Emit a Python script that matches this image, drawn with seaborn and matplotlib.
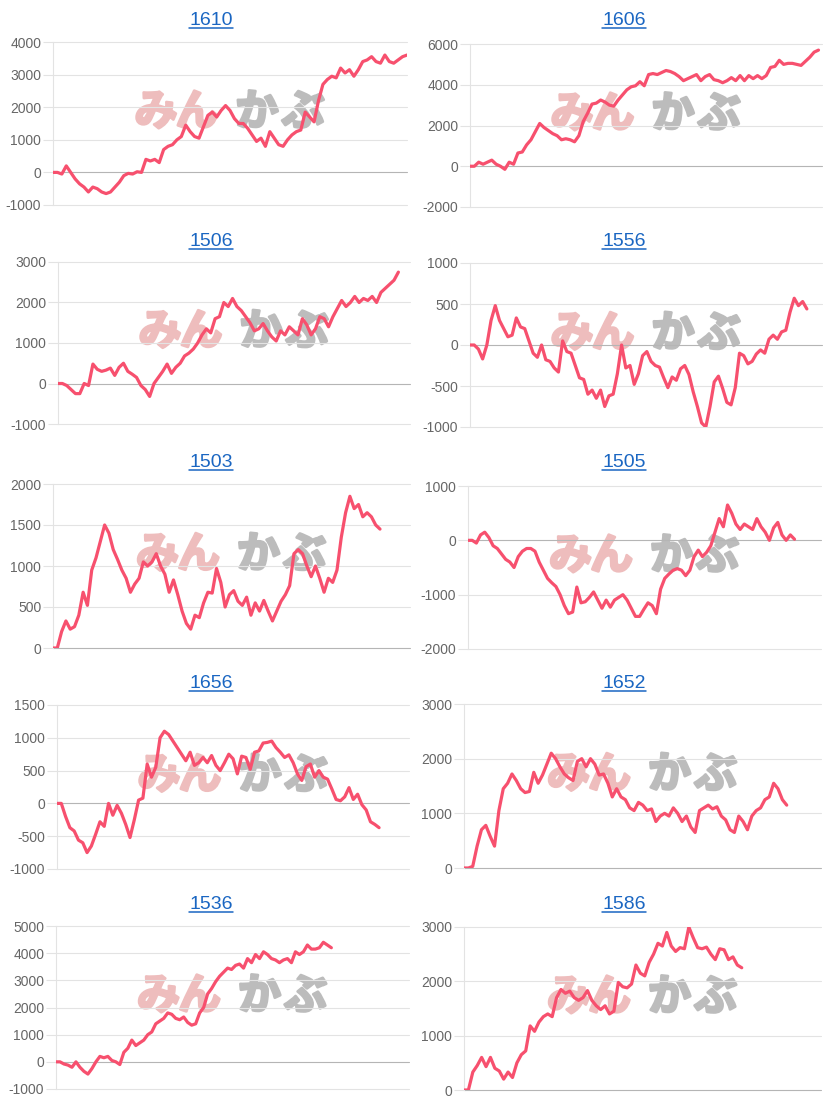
import matplotlib

matplotlib.use("Agg")
import matplotlib.patheffects as pe
import matplotlib.pyplot as plt
import numpy as np
import pandas as pd
import seaborn as sns
from matplotlib.lines import Line2D

# --- data (cumulative P/L per code) ---
codes = ["1610", "1606", "1506", "1556", "1503", "1505", "1656", "1652", "1536", "1586"]

pl_1610 = [0, 0, -50, 200, 0, -200, -350, -450, -600, -450, -500, -600, -650, -600, -450,
           -300, -100, -30, -50, 20, 0, 400, 350, 400, 300, 700, 800, 850, 1000, 1100,
           1450, 1250, 1100, 1050, 1400, 1750, 1850, 1700, 1900, 2050, 1900, 1650, 1500,
           1500, 1350, 1150, 950, 1050, 800, 1250, 1050, 850, 800, 1000, 1150, 1250, 1300,
           1850, 1700, 1550, 2200, 2700, 2850, 2950, 2900, 3200, 3050, 3150, 2950, 3150,
           3400, 3450, 3550, 3400, 3350, 3600, 3400, 3350, 3450, 3550, 3600]
pl_1606 = [0, 0, 200, 100, 200, 300, 100, 0, -150, 200, 100, 650, 700, 1050, 1300, 1700,
           2100, 1900, 1750, 1600, 1500, 1300, 1350, 1300, 1200, 1500, 2200, 2600, 3050,
           3100, 3250, 3150, 3000, 2950, 3250, 3500, 3750, 3900, 3950, 4150, 3950, 4500,
           4550, 4500, 4600, 4700, 4650, 4550, 4400, 4200, 4300, 4400, 4500, 4200, 4400,
           4500, 4250, 4200, 4100, 4200, 4350, 4200, 4450, 4200, 4450, 4300, 4450, 4300,
           4450, 4850, 4900, 5200, 5000, 5050, 5050, 5000, 4950, 5150, 5350, 5600, 5700]
pl_1506 = [0, 0, -50, -150, -250, -250, 0, -50, 480, 350, 300, 330, 380, 200, 400, 500,
           300, 230, 150, -50, -150, -320, 0, 150, 300, 480, 250, 400, 500, 680, 750, 850,
           1000, 1200, 1350, 1250, 1600, 1650, 2000, 1900, 2100, 1900, 1800, 1650, 1500,
           1300, 1350, 1480, 1300, 1150, 1050, 1300, 1200, 1400, 1300, 1200, 1600, 1450,
           1200, 1350, 1650, 1600, 1400, 1650, 1850, 2050, 1900, 2000, 2150, 2000, 2100,
           2050, 2150, 2000, 2250, 2350, 2450, 2550, 2750]
pl_1556 = [0, 0, -50, -170, 0, 300, 480, 300, 200, 100, 120, 330, 220, 200, 50, -100, -150,
           0, -180, -200, -280, -330, 50, -80, -100, -250, -400, -420, -600, -550, -650,
           -550, -750, -620, -600, -350, 0, -280, -250, -480, -350, -130, -80, -200, -250,
           -270, -400, -520, -390, -430, -290, -250, -360, -570, -750, -950, -1000, -750,
           -450, -380, -530, -700, -730, -520, -100, -130, -230, -200, -110, -60, -100, 70,
           120, 70, 160, 180, 400, 570, 480, 530, 440]
pl_1503 = [0, 0, 200, 330, 230, 260, 400, 680, 520, 950, 1100, 1300, 1500, 1400, 1200,
           1080, 950, 850, 680, 780, 850, 1050, 1000, 1050, 1150, 1000, 900, 680, 830, 650,
           450, 300, 230, 400, 370, 550, 680, 670, 970, 800, 500, 650, 700, 570, 520, 620,
           400, 550, 450, 580, 450, 330, 450, 570, 650, 760, 1150, 1200, 1150, 1000, 870,
           1000, 850, 680, 850, 800, 950, 1350, 1650, 1850, 1700, 1750, 1600, 1650, 1600,
           1500, 1450]
pl_1505 = [0, 0, -50, 100, 150, 50, -100, -150, -250, -350, -400, -500, -300, -200, -150,
           -150, -200, -400, -550, -700, -780, -850, -1000, -1200, -1350, -1320, -860, -1150,
           -1130, -1050, -950, -1100, -1250, -1100, -1230, -1100, -1050, -1000, -1100, -1250,
           -1400, -1400, -1270, -1150, -1200, -1350, -900, -700, -620, -550, -520, -550,
           -650, -550, -300, -180, -300, -220, -100, 150, 400, 250, 650, 500, 300, 200, 300,
           250, 200, 400, 250, 150, 0, 230, 330, 100, 0, 100, 20]
pl_1656 = [0, 0, -200, -370, -420, -560, -600, -750, -650, -470, -280, -350, 0, -180, -30,
           -150, -320, -520, -250, 50, 80, 600, 400, 550, 1000, 1100, 1050, 950, 850, 750,
           650, 780, 580, 620, 700, 620, 730, 580, 500, 620, 750, 680, 450, 720, 700, 520,
           780, 800, 920, 930, 950, 850, 780, 700, 740, 620, 450, 350, 560, 600, 400, 500,
           400, 370, 220, 60, 40, 100, 240, 60, 140, -20, -100, -280, -320, -370]
pl_1652 = [0, 0, 30, 400, 700, 780, 580, 400, 1050, 1450, 1550, 1720, 1600, 1450, 1380,
           1400, 1750, 1550, 1700, 1900, 2100, 2000, 1850, 1720, 1650, 1600, 1950, 2000,
           1850, 2000, 1900, 1700, 1720, 1550, 1300, 1450, 1300, 1250, 1100, 1050, 1200,
           1150, 1050, 1080, 850, 950, 1000, 950, 1100, 1000, 850, 950, 750, 650, 1050,
           1100, 1150, 1080, 1120, 950, 880, 700, 650, 950, 850, 700, 950, 1050, 1100, 1250,
           1300, 1550, 1450, 1250, 1150]
pl_1536 = [0, 0, -80, -120, -200, 0, -200, -350, -450, -250, 0, 200, 150, 200, 50, 0, -100,
           350, 500, 800, 600, 700, 800, 1000, 1100, 1400, 1500, 1600, 1800, 1750, 1600,
           1550, 1650, 1450, 1350, 1400, 1800, 2000, 2500, 2700, 2950, 3150, 3300, 3450,
           3400, 3550, 3600, 3450, 3800, 3650, 3950, 3800, 4050, 3950, 3800, 3750, 3650,
           3750, 3800, 3650, 4050, 3950, 4050, 4300, 4150, 4150, 4200, 4400, 4300, 4200]
pl_1586 = [0, 0, 330, 450, 600, 430, 600, 400, 350, 200, 330, 230, 500, 650, 720, 1180,
           1080, 1250, 1350, 1400, 1350, 1700, 1850, 1780, 1820, 1700, 1650, 1700, 1830,
           1650, 1550, 1480, 1550, 1400, 1450, 1980, 1900, 1880, 1950, 2300, 2150, 2100,
           2350, 2500, 2700, 2650, 2900, 2650, 2550, 2620, 2600, 3000, 2800, 2620, 2600,
           2630, 2500, 2400, 2600, 2580, 2400, 2450, 2300, 2250]

series = [pl_1610, pl_1606, pl_1506, pl_1556, pl_1503,
          pl_1505, pl_1656, pl_1652, pl_1536, pl_1586]

# share of the common date axis each series covers
coverage = [1.0, 0.99, 0.967, 0.957, 0.916, 0.925, 0.915, 0.904, 0.78, 0.778]

y_ticks = [
    [-1000, 0, 1000, 2000, 3000, 4000],
    [-2000, 0, 2000, 4000, 6000],
    [-1000, 0, 1000, 2000, 3000],
    [-1000, -500, 0, 500, 1000],
    [0, 500, 1000, 1500, 2000],
    [-2000, -1000, 0, 1000],
    [-1000, -500, 0, 500, 1000, 1500],
    [0, 1000, 2000, 3000],
    [-1000, 0, 1000, 2000, 3000, 4000, 5000],
    [0, 1000, 2000, 3000],
]

# --- layout (pixel boxes of each plot area: left, right, top, bottom) ---
W, H = 824, 1105
boxes = [
    (53, 407, 42, 205), (470, 822, 44, 207),
    (58, 410, 262, 424), (470, 822, 263, 427),
    (53, 410, 484, 648), (468, 821, 486, 649),
    (57, 409, 705, 869), (464, 821, 704, 868),
    (56, 409, 926, 1089), (464, 821, 927, 1090),
]
title_cx = [211, 624]

LINE = "#f7506e"
GRID = "#e3e3e3"
ZERO = "#b5b5b5"
TICK_TXT = "#666666"
LINK = "#1a66c2"
LOGO_PINK = "#eebdbd"
LOGO_GRAY = "#bcbcbc"

sns.set_theme(style="white")
plt.rcParams["font.family"] = ["Liberation Sans", "Noto Sans CJK JP", "DejaVu Sans"]

fig = plt.figure(figsize=(W / 100, H / 100), dpi=100)
titles = []

for i, (code, vals, ticks, cov) in enumerate(zip(codes, series, y_ticks, coverage)):
    x0, x1, yt, yb = boxes[i]
    ax = fig.add_axes([x0 / W, 1 - yb / H, (x1 - x0) / W, (yb - yt) / H])
    ax.set_facecolor("none")

    # watermark logo (みんかぶ)
    for ch, dx, col in zip("みんかぶ", [-74, -33, 27, 73],
                           [LOGO_PINK, LOGO_PINK, LOGO_GRAY, LOGO_GRAY]):
        ax.text(0.5 + dx / (x1 - x0), 0.57, ch, transform=ax.transAxes,
                ha="center", va="center", fontsize=31, fontweight="bold",
                color=col, family=["Noto Sans CJK JP"], zorder=1,
                path_effects=[pe.withStroke(linewidth=2, foreground=col)])

    # horizontal grid, zero line darker
    for t in ticks:
        ax.axhline(t, color=ZERO if t == 0 else GRID, lw=0.8, zorder=2, clip_on=False)

    df = pd.DataFrame({"day": np.arange(len(vals)), "pl": vals})
    sns.lineplot(data=df, x="day", y="pl", ax=ax, color=LINE, linewidth=2.3,
                 zorder=5, solid_joinstyle="round")

    ax.set_xlim(0, (len(vals) - 1) / cov)
    ax.set_ylim(ticks[0], ticks[-1])
    ax.set_yticks(ticks)
    ax.set_yticklabels([str(t) for t in ticks])
    ax.set_xticks([])
    ax.set_xlabel("")
    ax.set_ylabel("")
    ax.tick_params(axis="y", length=7, width=0.8, color=GRID, pad=1.5,
                   labelsize=10, labelcolor=TICK_TXT, left=True)
    for tk, t in zip(ax.yaxis.get_major_ticks(), ticks):
        if t == 0:
            tk.tick1line.set_color(ZERO)
    for side in ["top", "right", "bottom"]:
        ax.spines[side].set_visible(False)
    ax.spines["left"].set_color(GRID)
    ax.spines["left"].set_linewidth(0.8)

    row, col = divmod(i, 2)
    base = 25 + 221 * row
    txt = fig.text(title_cx[col] / W, 1 - base / H, code, ha="center", va="baseline",
                   fontsize=14, color=LINK)
    titles.append((txt, base))

# underline the link-style titles
fig.canvas.draw()
renderer = fig.canvas.get_renderer()
for txt, base in titles:
    bb = txt.get_window_extent(renderer)
    yl = (H - base - 2.5) / H
    fig.add_artist(Line2D([bb.x0 / W, bb.x1 / W], [yl, yl], transform=fig.transFigure,
                          color=LINK, lw=1.1))

fig.savefig("out.png", dpi=100)
plt.close(fig)
